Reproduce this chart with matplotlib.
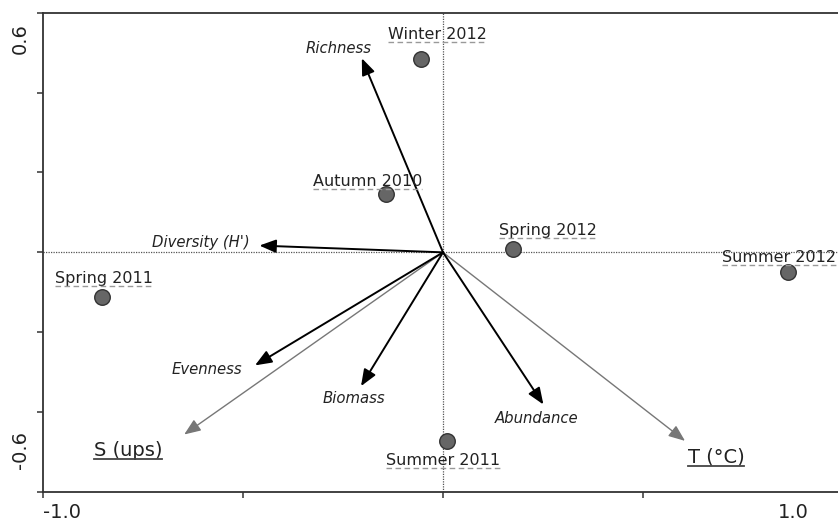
import matplotlib
matplotlib.use("Agg")
import matplotlib.pyplot as plt
from matplotlib.lines import Line2D

# sampling periods (site scores)
sites = ["Winter 2012", "Autumn 2010", "Spring 2012", "Summer 2012",
         "Spring 2011", "Summer 2011"]
site_x = [-0.055, -0.143, 0.174, 0.863, -0.853, 0.011]
site_y = [0.485, 0.146, 0.009, -0.049, -0.112, -0.472]

# community descriptors (arrows)
variables = ["Richness", "Diversity (H')", "Evenness", "Biomass", "Abundance"]
var_x = [-0.203, -0.459, -0.470, -0.205, 0.251]
var_y = [0.486, 0.017, -0.283, -0.335, -0.381]

# environmental variables
env = ["S (ups)", "T (°C)"]
env_x = [-0.647, 0.605]
env_y = [-0.456, -0.472]

# label offsets in pixels (dx, dy) from the mark
site_off = [(16, 20), (-18, 8), (35, 14), (-9, 10), (2, 14), (-4, -24)]
var_off = [(-23, 5), (-59, -1), (-48, -9), (-7, -17), (-7, -18)]
env_off = [(-56, -22), (31, -22)]

W, H = 838, 522
fig = plt.figure(figsize=(W / 100, H / 100), dpi=100)
ax = fig.add_axes([43 / W, 30 / H, 800 / W, 479.3 / H])
ax.set_xlim(-1.0, 1.0)
ax.set_ylim(-0.6, 0.6)

for side in ["left", "bottom", "top"]:
    ax.spines[side].set_color("#333333")
    ax.spines[side].set_linewidth(1.3)
ax.spines["right"].set_visible(False)
ax.set_xticks([-1.0, -0.5, 0.0, 0.5, 1.0])
ax.set_yticks([-0.6, -0.4, -0.2, 0.0, 0.2, 0.4, 0.6])
ax.tick_params(direction="out", length=4, width=1.1, color="#333333",
               labelbottom=False, labelleft=False)

ax.axhline(0, color="#555555", lw=0.9, ls=(0, (1, 1)), zorder=1)
ax.axvline(0, color="#555555", lw=0.9, ls=(0, (1, 1)), zorder=1)

# arrows
for x, y in zip(var_x, var_y):
    ax.annotate("", xy=(x, y), xytext=(0, 0),
                arrowprops=dict(arrowstyle="-|>,head_length=0.5,head_width=0.2",
                                mutation_scale=20, lw=1.4, color="black",
                                shrinkA=0, shrinkB=0), zorder=3)
for x, y in zip(env_x, env_y):
    ax.annotate("", xy=(x, y), xytext=(0, 0),
                arrowprops=dict(arrowstyle="-|>,head_length=0.5,head_width=0.2",
                                mutation_scale=20, lw=1.0, color="#777777",
                                shrinkA=0, shrinkB=0), zorder=2)

ax.scatter(site_x, site_y, s=125, color="#666666", edgecolor="#333333",
           linewidth=1.0, zorder=4)

site_txt = []
for name, x, y, (dx, dy) in zip(sites, site_x, site_y, site_off):
    t = ax.annotate(name, xy=(x, y), xytext=(dx, dy), textcoords="offset pixels",
                    ha="center", va="baseline", fontsize=11.5, color="#222222",
                    annotation_clip=False)
    site_txt.append(t)

for name, x, y, (dx, dy) in zip(variables, var_x, var_y, var_off):
    ax.annotate(name, xy=(x, y), xytext=(dx, dy), textcoords="offset pixels",
                ha="center", va="baseline", fontsize=10.7, style="italic",
                color="#222222")

env_txt = []
for name, x, y, (dx, dy) in zip(env, env_x, env_y, env_off):
    t = ax.annotate(name, xy=(x, y), xytext=(dx, dy), textcoords="offset pixels",
                    ha="center", va="baseline", fontsize=14, color="#222222")
    env_txt.append(t)

# axis end labels
fig.text(20.5 / W, 1 - 39 / H, "0.6", rotation=90, ha="center", va="center",
         fontsize=14, color="#222222")
fig.text(20.5 / W, 1 - 450 / H, "-0.6", rotation=90, ha="center", va="center",
         fontsize=14, color="#222222")
fig.text(62.5 / W, 1 - 512 / H, "-1.0", ha="center", va="center",
         fontsize=14, color="#222222")
fig.text(793.5 / W, 1 - 512 / H, "1.0", ha="center", va="center",
         fontsize=14, color="#222222")

# underlines below the labels
fig.canvas.draw()
renderer = fig.canvas.get_renderer()


def underline(txt, gap, **kw):
    bb = txt.get_window_extent(renderer)
    x, y = txt.xy
    px, py = ax.transData.transform((x, y))
    base = py + txt.xyann[1] - gap
    fig.add_artist(Line2D([bb.x0 / W, bb.x1 / W], [base / H, base / H],
                          transform=fig.transFigure, **kw))


for t in site_txt:
    underline(t, 3, color="#999999", lw=1.0, ls=(0, (4, 2.5)))
for t in env_txt:
    underline(t, 3, color="#444444", lw=1.3)

fig.savefig("out.png", dpi=100)
